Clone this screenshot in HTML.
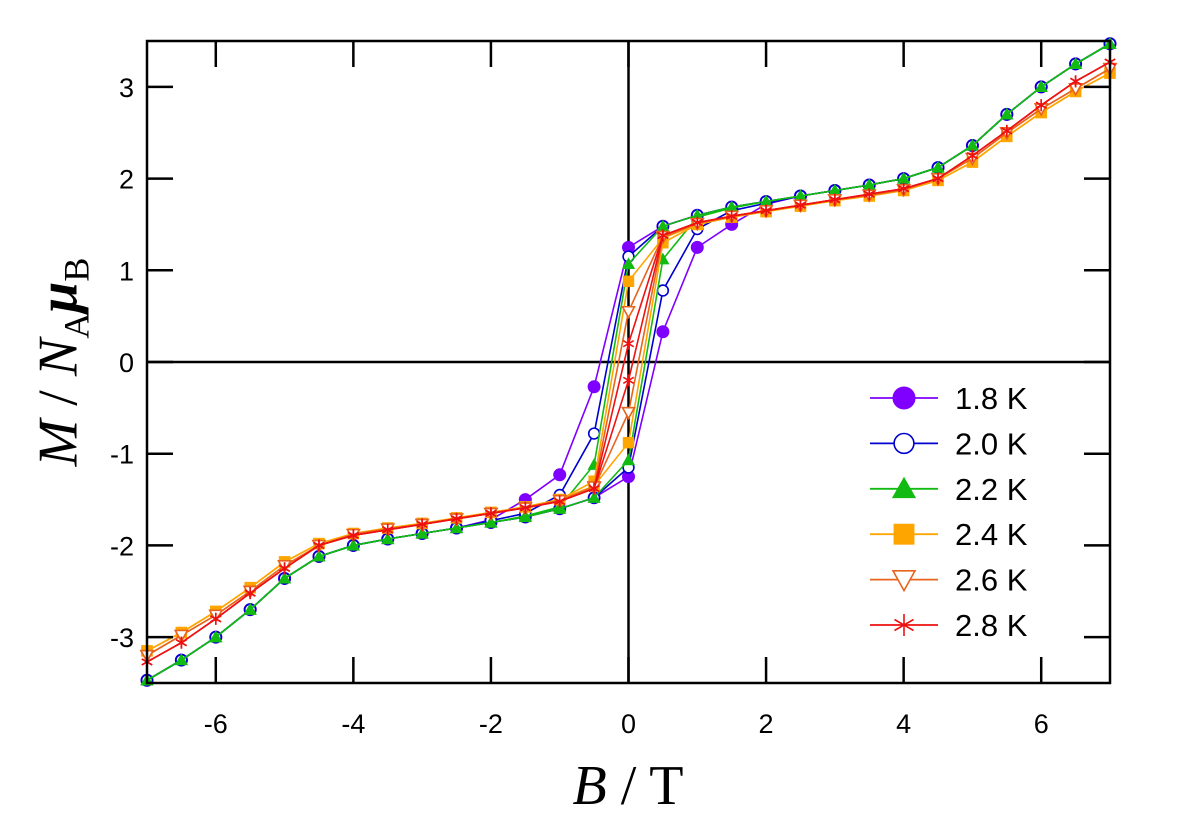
<!DOCTYPE html>
<html><head><meta charset="utf-8"><style>
html,body{margin:0;padding:0;background:#fff;}
svg{display:block;}
</style></head><body>
<svg id="chart" width="1200" height="818" viewBox="0 0 1200 818" xmlns="http://www.w3.org/2000/svg">
<g id="plot"></g>
</svg>
<script>
const fields = [-7,-6.5,-6,-5.5,-5,-4.5,-4,-3.5,-3,-2.5,-2,-1.5,-1,-0.5,0,0.5,1,1.5,2,2.5,3,3.5,4,4.5,5,5.5,6,6.5,7];
const temps = ["1.8 K","2.0 K","2.2 K","2.4 K","2.6 K","2.8 K"];
const up18 = [-3.47,-3.25,-3.0,-2.7,-2.36,-2.12,-2.0,-1.93,-1.87,-1.81,-1.75,-1.69,-1.6,-1.48,-1.25,0.33,1.25,1.5,1.72,1.81,1.87,1.93,2.0,2.12,2.36,2.7,3.0,3.25,3.47];
const down18 = [-3.47,-3.25,-3.0,-2.7,-2.36,-2.12,-2.0,-1.93,-1.87,-1.81,-1.72,-1.5,-1.23,-0.27,1.25,1.48,1.6,1.69,1.75,1.81,1.87,1.93,2.0,2.12,2.36,2.7,3.0,3.25,3.47];
const up20 = [-3.47,-3.25,-3.0,-2.7,-2.36,-2.12,-2.0,-1.93,-1.87,-1.81,-1.75,-1.69,-1.6,-1.48,-1.15,0.78,1.45,1.65,1.73,1.81,1.87,1.93,2.0,2.12,2.36,2.7,3.0,3.25,3.47];
const down20 = [-3.47,-3.25,-3.0,-2.7,-2.36,-2.12,-2.0,-1.93,-1.87,-1.81,-1.73,-1.65,-1.45,-0.78,1.15,1.48,1.6,1.69,1.75,1.81,1.87,1.93,2.0,2.12,2.36,2.7,3.0,3.25,3.47];
const up22 = [-3.47,-3.25,-3.0,-2.7,-2.36,-2.12,-2.0,-1.93,-1.87,-1.81,-1.75,-1.69,-1.6,-1.48,-1.07,1.12,1.58,1.68,1.75,1.81,1.87,1.93,2.0,2.12,2.36,2.7,3.0,3.25,3.47];
const down22 = [-3.47,-3.25,-3.0,-2.7,-2.36,-2.12,-2.0,-1.93,-1.87,-1.81,-1.75,-1.68,-1.58,-1.12,1.07,1.48,1.6,1.69,1.75,1.81,1.87,1.93,2.0,2.12,2.36,2.7,3.0,3.25,3.47];
const up24 = [-3.15,-2.95,-2.72,-2.46,-2.18,-1.98,-1.87,-1.81,-1.76,-1.7,-1.64,-1.58,-1.5,-1.35,-0.88,1.3,1.5,1.58,1.64,1.7,1.76,1.81,1.87,1.98,2.18,2.46,2.72,2.95,3.15];
const down24 = [-3.15,-2.95,-2.72,-2.46,-2.18,-1.98,-1.87,-1.81,-1.76,-1.7,-1.64,-1.58,-1.5,-1.3,0.88,1.35,1.5,1.58,1.64,1.7,1.76,1.81,1.87,1.98,2.18,2.46,2.72,2.95,3.15];
const up26 = [-3.2,-2.98,-2.76,-2.5,-2.22,-2.0,-1.88,-1.82,-1.77,-1.71,-1.65,-1.59,-1.51,-1.37,-0.55,1.36,1.51,1.59,1.65,1.71,1.77,1.82,1.88,2.0,2.22,2.5,2.76,2.98,3.2];
const down26 = [-3.2,-2.98,-2.76,-2.5,-2.22,-2.0,-1.88,-1.82,-1.77,-1.71,-1.65,-1.59,-1.51,-1.36,0.55,1.37,1.51,1.59,1.65,1.71,1.77,1.82,1.88,2.0,2.22,2.5,2.76,2.98,3.2];
const up28 = [-3.27,-3.06,-2.8,-2.52,-2.25,-2.0,-1.89,-1.83,-1.77,-1.71,-1.65,-1.59,-1.52,-1.38,-0.2,1.38,1.52,1.59,1.65,1.71,1.77,1.83,1.89,2.0,2.25,2.52,2.8,3.06,3.27];
const down28 = [-3.27,-3.06,-2.8,-2.52,-2.25,-2.0,-1.89,-1.83,-1.77,-1.71,-1.65,-1.59,-1.52,-1.38,0.2,1.38,1.52,1.59,1.65,1.71,1.77,1.83,1.89,2.0,2.25,2.52,2.8,3.06,3.27];
const xTicks = [-6,-4,-2,0,2,4,6];
const xTickLabels = ["-6","-4","-2","0","2","4","6"];
const yTicks = [-3,-2,-1,0,1,2,3];
const yTickLabels = ["-3","-2","-1","0","1","2","3"];

const upSeries = [up18,up20,up22,up24,up26,up28];
const downSeries = [down18,down20,down22,down24,down26,down28];
const colors = ["#7f00ff","#0000d0","#11bb11","#ffa500","#e8641e","#ee1111"];
const markers = ["circle","ocircle","triangle","square","otriangle","star"];

const L=147,R=1110,T=41,B=683;
const xMin=-7,xMax=7,yMin=-3.5,yMax=3.5;
const sx=v=>L+(v-xMin)/(xMax-xMin)*(R-L);
const sy=v=>B-(v-yMin)/(yMax-yMin)*(B-T);
const NS="http://www.w3.org/2000/svg";
const g=document.getElementById('plot');
function el(tag,attrs,parent){const e=document.createElementNS(NS,tag);for(const k in attrs)e.setAttribute(k,attrs[k]);(parent||g).appendChild(e);return e;}

function marker(type,cx,cy,r,col,parent){
  let m;
  if(type==="circle"){m=el('circle',{cx,cy,r,fill:col,stroke:col,'stroke-width':1},parent);}
  else if(type==="ocircle"){m=el('circle',{cx,cy,r:r*0.9,fill:'#fff',stroke:col,'stroke-width':1.6},parent);}
  else if(type==="triangle"){m=el('polygon',{points:`${cx},${cy-r*1.1} ${cx-r*1.1},${cy+r*0.85} ${cx+r*1.1},${cy+r*0.85}`,fill:col},parent);}
  else if(type==="square"){m=el('rect',{x:cx-r*0.95,y:cy-r*0.95,width:r*1.9,height:r*1.9,fill:col},parent);}
  else if(type==="otriangle"){m=el('polygon',{points:`${cx-r},${cy-r*0.8} ${cx+r},${cy-r*0.8} ${cx},${cy+r}`,fill:'#fff',stroke:col,'stroke-width':1.6},parent);}
  else {m=el('g',{},parent);for(let a=0;a<3;a++){const t=Math.PI/2+a*Math.PI/3;el('line',{x1:cx-r*Math.cos(t),y1:cy-r*Math.sin(t),x2:cx+r*Math.cos(t),y2:cy+r*Math.sin(t),stroke:col,'stroke-width':1.6},m);}}
  return m;
}

// zero lines
const zh=el('line',{x1:L,y1:sy(0),x2:R,y2:sy(0),stroke:'#000','stroke-width':2.5});


const zv=el('line',{x1:sx(0),y1:T,x2:sx(0),y2:B,stroke:'#000','stroke-width':2.5});



// series
for(let s=0;s<temps.length;s++){
  const sg=el('g',{});
  
  
  [upSeries[s],downSeries[s]].forEach((arr,bi)=>{
    const pts=fields.map((f,i)=>sx(f)+','+sy(arr[i])).join(' ');
    const pl=el('polyline',{points:pts,fill:'none',stroke:colors[s],'stroke-width':1.6},sg);
    
    
  });
  [upSeries[s],downSeries[s]].forEach(arr=>{
    fields.forEach((f,i)=>{
      const m=marker(markers[s],sx(f),sy(arr[i]),6,colors[s],sg);
      
      
    });
  });
}

// frame
const fr=el('rect',{x:L,y:T,width:R-L,height:B-T,fill:'none',stroke:'#000','stroke-width':2.5});



// ticks
xTicks.forEach((v,i)=>{
  const x=sx(v);
  const t1=el('line',{x1:x,y1:B,x2:x,y2:B-26,stroke:'#000','stroke-width':2.5});
  
  
  const t2=el('line',{x1:x,y1:T,x2:x,y2:T+26,stroke:'#000','stroke-width':2.5});
  
  
  const tx=el('text',{x:x,y:733,'text-anchor':'middle','font-family':'Liberation Sans, sans-serif','font-size':27});
  tx.textContent=xTickLabels[i];
  
  
});
yTicks.forEach((v,i)=>{
  const y=sy(v);
  const t1=el('line',{x1:L,y1:y,x2:L+26,y2:y,stroke:'#000','stroke-width':2.5});
  
  
  const t2=el('line',{x1:R,y1:y,x2:R-26,y2:y,stroke:'#000','stroke-width':2.5});
  
  
  const tx=el('text',{x:134,y:y+10,'text-anchor':'end','font-family':'Liberation Sans, sans-serif','font-size':27});
  tx.textContent=yTickLabels[i];
  
  
});

// legend
const lg=el('g',{});


temps.forEach((t,s)=>{
  const y=398+s*45.4;
  const eg=el('g',{},lg);
  
  
  el('line',{x1:870,y1:y,x2:938,y2:y,stroke:colors[s],'stroke-width':1.8},eg);
  marker(markers[s],904,y,11,colors[s],eg);
  const tx=el('text',{x:955,y:y+11,'font-family':'Liberation Sans, sans-serif','font-size':31},eg);
  tx.textContent=t;
});
</script>
<div style="position:absolute;left:62px;top:362px;transform:translate(-50%,-50%) rotate(-90deg);white-space:nowrap;font-family:'Liberation Serif',serif;font-size:56px;">
<i>M</i> / <i>N</i><sub style="font-size:36px">A</sub><i><b>μ</b></i><sub style="font-size:36px">B</sub></div>
<div style="position:absolute;left:628px;top:786px;transform:translate(-50%,-50%);white-space:nowrap;font-family:'Liberation Serif',serif;font-size:56px;">
<i>B</i> / T</div>
</body></html>
